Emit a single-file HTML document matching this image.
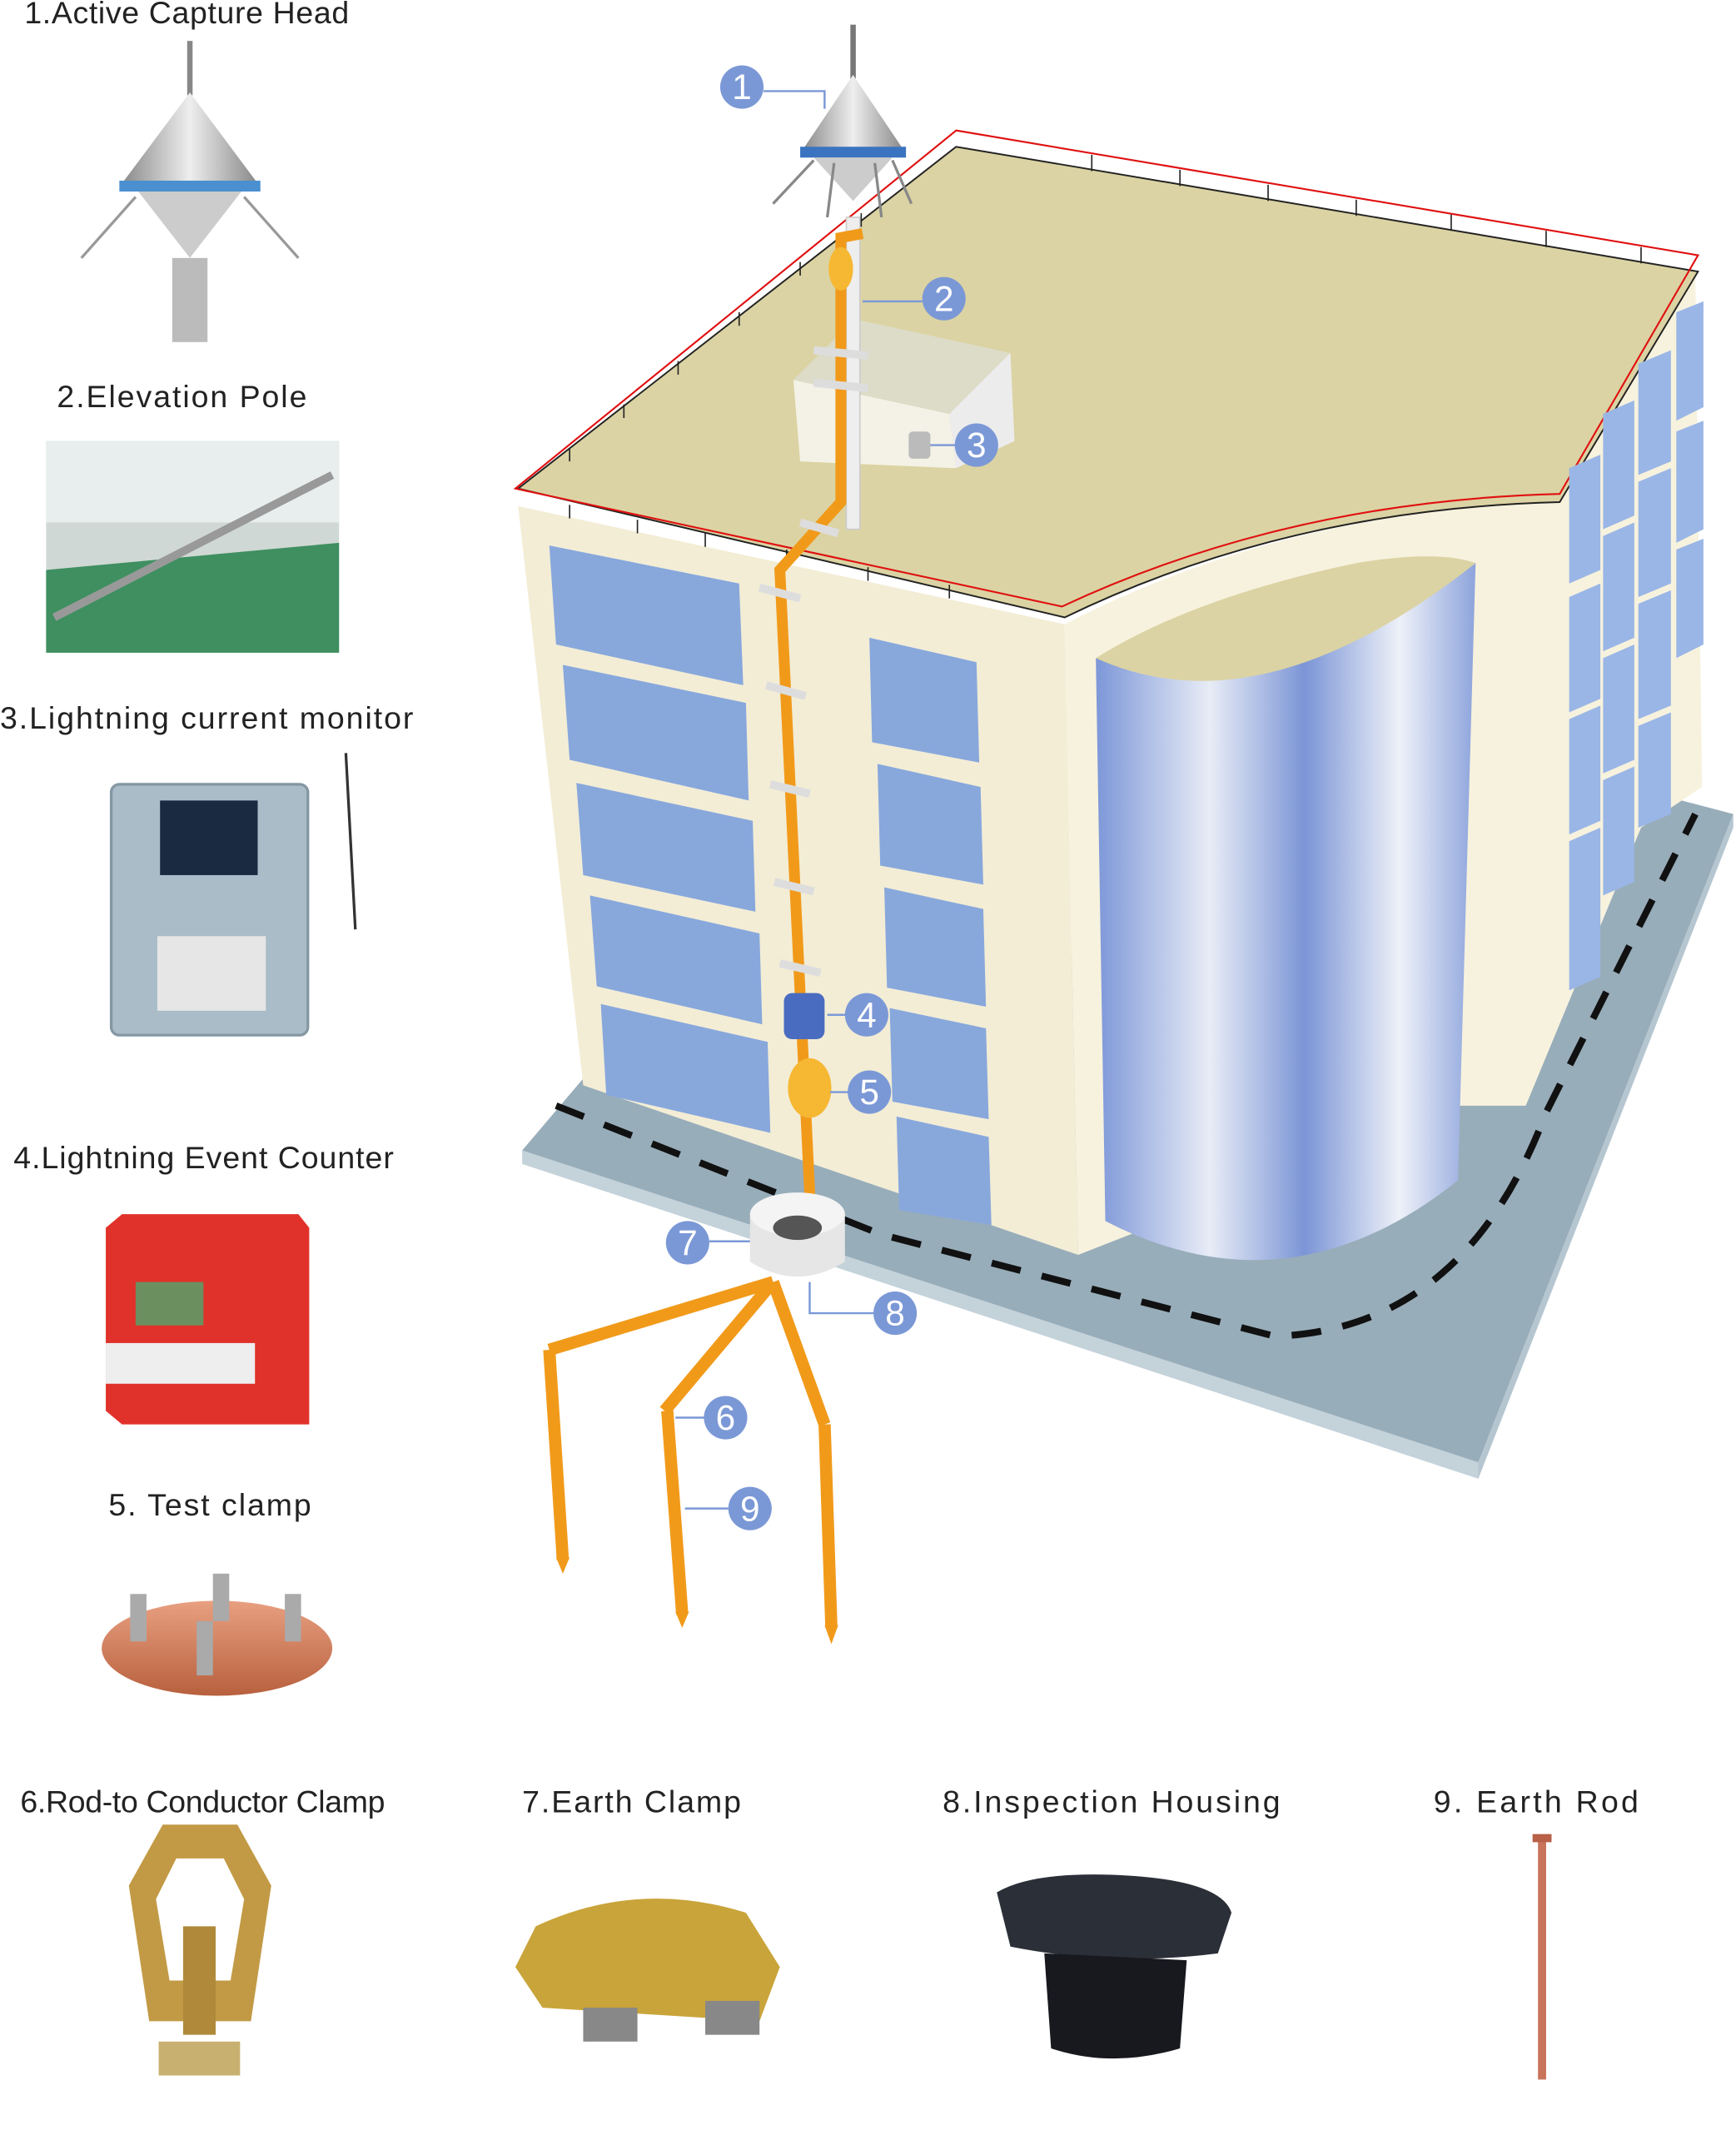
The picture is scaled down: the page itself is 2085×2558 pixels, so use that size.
<!DOCTYPE html>
<html><head><meta charset="utf-8"><style>
html,body{margin:0;padding:0;background:#fff}
svg{display:block}
text{font-family:"Liberation Sans",sans-serif}
</style></head><body>
<svg width="2085" height="2558" viewBox="0 0 1280 1570" xmlns="http://www.w3.org/2000/svg">
<defs>
<linearGradient id="cyl" x1="0" x2="1" y1="0" y2="0">
<stop offset="0" stop-color="#7d97d8"/><stop offset="0.3" stop-color="#e8ecf6"/><stop offset="0.55" stop-color="#7b95d6"/><stop offset="0.8" stop-color="#eef1f8"/><stop offset="1" stop-color="#8da4dc"/>
</linearGradient>
<linearGradient id="cone" x1="0" x2="1"><stop offset="0" stop-color="#8a8a8a"/><stop offset="0.5" stop-color="#eee"/><stop offset="1" stop-color="#888"/></linearGradient>
<linearGradient id="cu" x1="0" x2="0" y1="0" y2="1"><stop offset="0" stop-color="#e8a080"/><stop offset="1" stop-color="#b8603e"/></linearGradient>
</defs>
<polygon points="385,848 430,795 1240,590 1278,600 1090,1078" fill="#98adba"/>
<polygon points="385,848 385,858 1090,1090 1090,1078" fill="#c4d2da"/>
<polygon points="1090,1078 1090,1090 1278,610 1278,600" fill="#b6c6d0"/>
<path d="M410,815 L650,910 L940,985 Q1080,980 1140,820 L1250,600" fill="none" stroke="#111" stroke-width="5" stroke-dasharray="22,16"/>
<polygon points="382,373 785,460 795,925 430,800" fill="#f3edd6"/>
<path d="M785,460 Q950,375 1150,370 L1250,200 L1255,580 L1210,610 L1125,815 L1075,815 L795,925 Z" fill="#f7f2de"/>
<path d="M382,360 L705,108 L1252,200 L1150,370 Q950,375 785,455 Z" fill="#dbd3a3" stroke="#222" stroke-width="1.2"/>
<path d="M380,360 L705,96 L1252,188 L1150,364 Q950,369 783,447 Z" fill="none" stroke="#e01010" stroke-width="1.3"/>
<g stroke="#222" stroke-width="1">
<line x1="420" y1="330" x2="420" y2="340"/><line x1="460" y1="298" x2="460" y2="308"/><line x1="500" y1="266" x2="500" y2="276"/><line x1="545" y1="230" x2="545" y2="240"/><line x1="590" y1="193" x2="590" y2="203"/><line x1="635" y1="157" x2="635" y2="167"/>
<line x1="805" y1="114" x2="805" y2="126"/><line x1="870" y1="125" x2="870" y2="137"/><line x1="935" y1="136" x2="935" y2="148"/><line x1="1000" y1="147" x2="1000" y2="159"/><line x1="1070" y1="158" x2="1070" y2="170"/><line x1="1140" y1="170" x2="1140" y2="182"/><line x1="1210" y1="182" x2="1210" y2="194"/>
<line x1="420" y1="372" x2="420" y2="382"/><line x1="470" y1="383" x2="470" y2="393"/><line x1="520" y1="393" x2="520" y2="403"/><line x1="580" y1="405" x2="580" y2="415"/><line x1="640" y1="418" x2="640" y2="428"/><line x1="700" y1="431" x2="700" y2="441"/>
</g>
<path d="M808,485 L815,900 Q950,970 1075,870 L1088,415 Z" fill="url(#cyl)"/>
<path d="M808,485 Q930,540 1088,415 Q1060,405 1000,415 Q880,440 808,485 Z" fill="#dbd3a3"/>
<g fill="#88a8dc">
<polygon points="405,402 545,430 548,505 410,475"/><polygon points="415,490 550,518 552,590 420,560"/>
<polygon points="425,577 555,605 557,672 430,645"/><polygon points="435,660 560,688 562,755 440,727"/>
<polygon points="443,740 566,768 568,835 447,807"/>
<polygon points="641,470 720,488 722,562 643,547"/><polygon points="647,563 723,580 725,652 649,638"/>
<polygon points="652,654 725,670 727,742 654,728"/><polygon points="656,743 727,758 729,825 658,812"/>
<polygon points="661,823 729,838 731,903 663,892"/>
</g>
<g fill="#9ab6e6">
<polygon points="1236,230 1256,222 1256,300 1236,310"/><polygon points="1208,268 1232,258 1232,340 1208,350"/><polygon points="1182,305 1205,295 1205,380 1182,390"/><polygon points="1157,345 1180,335 1180,420 1157,430"/>
<polygon points="1236,318 1256,310 1256,390 1236,400"/><polygon points="1208,355 1232,345 1232,430 1208,440"/><polygon points="1182,395 1205,385 1205,470 1182,480"/><polygon points="1157,440 1180,430 1180,515 1157,525"/>
<polygon points="1236,405 1256,397 1256,475 1236,485"/><polygon points="1208,445 1232,435 1232,520 1208,530"/><polygon points="1182,485 1205,475 1205,560 1182,570"/><polygon points="1157,530 1180,520 1180,605 1157,615"/>
<polygon points="1208,535 1232,525 1232,600 1208,610"/><polygon points="1182,575 1205,565 1205,650 1182,660"/><polygon points="1157,620 1180,610 1180,720 1157,730"/>
</g>
<polygon points="585,280 630,235 745,260 700,305" fill="#dcdcc8"/>
<polygon points="585,280 700,305 705,345 590,340" fill="#f4f2e6"/>
<polygon points="700,305 745,260 748,325 705,345" fill="#ececec"/>
<rect x="670" y="318" width="16" height="20" rx="3" fill="#bbb"/>
<rect x="624" y="160" width="10" height="230" fill="#eee" stroke="#ccc"/>
<line x1="629" y1="18" x2="629" y2="60" stroke="#777" stroke-width="4"/>
<polygon points="629,55 592,110 666,110" fill="url(#cone)"/>
<rect x="590" y="108" width="78" height="8" fill="#3a74c0"/>
<path d="M600,116 L629,148 L658,116 Z" fill="#ccc"/>
<g stroke="#888" stroke-width="2"><line x1="600" y1="118" x2="570" y2="150"/><line x1="658" y1="118" x2="672" y2="150"/><line x1="615" y1="120" x2="610" y2="160"/><line x1="645" y1="120" x2="650" y2="160"/></g>
<path d="M636,172 L620,175 L620,370 L575,420 L598,900" fill="none" stroke="#f19a1a" stroke-width="8"/>
<ellipse cx="620" cy="198" rx="9" ry="16" fill="#f6b733"/>
<g stroke="#ddd" stroke-width="6"><line x1="600" y1="258" x2="640" y2="262"/><line x1="600" y1="282" x2="640" y2="286"/><line x1="590" y1="385" x2="618" y2="393"/><line x1="560" y1="433" x2="590" y2="441"/><line x1="565" y1="505" x2="594" y2="513"/><line x1="568" y1="578" x2="597" y2="585"/><line x1="571" y1="650" x2="600" y2="657"/><line x1="575" y1="710" x2="605" y2="717"/></g>
<rect x="578" y="732" width="30" height="34" rx="6" fill="#4a6cc0"/>
<ellipse cx="597" cy="802" rx="16" ry="22" fill="#f6b733"/>
<path d="M553,895 L553,930 Q588,952 623,930 L623,895 Z" fill="#e6e6e6"/>
<ellipse cx="588" cy="895" rx="35" ry="16" fill="#f4f4f4"/>
<ellipse cx="588" cy="905" rx="18" ry="9" fill="#555"/>
<g fill="none" stroke="#f19a1a" stroke-width="9">
<path d="M570,945 L405,995"/><path d="M570,945 L490,1040"/><path d="M570,945 L608,1050"/>
<path d="M405,995 L415,1150"/><path d="M492,1040 L503,1190"/><path d="M608,1050 L613,1200"/>
</g>
<g fill="#f19a1a"><polygon points="410,1148 420,1148 415,1160"/><polygon points="498,1188 508,1188 503,1200"/><polygon points="608,1198 618,1198 613,1212"/></g>
<g stroke="#7b98d6" stroke-width="1.5" fill="none">
<path d="M563,67 L608,67 L608,80"/><line x1="636" y1="222" x2="680" y2="222"/><line x1="686" y1="328" x2="705" y2="328"/><line x1="610" y1="748" x2="625" y2="748"/><line x1="612" y1="805" x2="627" y2="805"/><line x1="523" y1="915" x2="553" y2="915"/><path d="M597,945 L597,968 L645,968"/><line x1="498" y1="1045" x2="520" y2="1045"/><line x1="505" y1="1112" x2="537" y2="1112"/>
</g>
<g fill="#7b98d6">
<circle cx="547" cy="64" r="16"/><circle cx="696" cy="220" r="16"/><circle cx="720" cy="328" r="16"/><circle cx="639" cy="748" r="16"/><circle cx="641" cy="805" r="16"/><circle cx="507" cy="916" r="16"/><circle cx="660" cy="968" r="16"/><circle cx="535" cy="1045" r="16"/><circle cx="553" cy="1112" r="16"/>
</g>
<g fill="#fff" font-size="26" text-anchor="middle">
<text x="547" y="73">1</text><text x="696" y="229">2</text><text x="720" y="337">3</text><text x="639" y="757">4</text><text x="641" y="814">5</text><text x="507" y="925">7</text><text x="660" y="977">8</text><text x="535" y="1054">6</text><text x="553" y="1121">9</text>
</g>
<g fill="#222" font-size="23" letter-spacing="1.2">
<text x="18" y="17" letter-spacing="0.4">1.Active Capture Head</text>
<text x="42" y="300">2.Elevation Pole</text>
<text x="0" y="537">3.Lightning current monitor</text>
<text x="10" y="861" letter-spacing="0.6">4.Lightning Event  Counter</text>
<text x="80" y="1117">5.  Test clamp</text>
<text x="15" y="1336" letter-spacing="-0.2">6.Rod-to Conductor Clamp</text>
<text x="385" y="1336">7.Earth Clamp</text>
<text x="695" y="1336" letter-spacing="1.8">8.Inspection Housing</text>
<text x="1057" y="1336" letter-spacing="2">9.  Earth  Rod</text>
</g>
<line x1="140" y1="30" x2="140" y2="70" stroke="#888" stroke-width="4"/>
<polygon points="140,68 90,135 190,135" fill="url(#cone)"/>
<rect x="88" y="133" width="104" height="8" fill="#4a8fd0"/>
<path d="M102,141 L140,190 L178,141 Z" fill="#ccc"/>
<g stroke="#999" stroke-width="2"><line x1="100" y1="145" x2="60" y2="190"/><line x1="180" y1="145" x2="220" y2="190"/></g>
<rect x="127" y="190" width="26" height="62" fill="#bbb"/>
<rect x="34" y="325" width="216" height="156" fill="#cfd8d4"/>
<rect x="34" y="325" width="216" height="60" fill="#e8eeee"/>
<polygon points="34,420 250,400 250,481 34,481" fill="#3f8f60"/>
<line x1="40" y1="455" x2="245" y2="350" stroke="#999" stroke-width="6"/>
<rect x="82" y="578" width="145" height="185" rx="6" fill="#a9bcc8" stroke="#8497a3" stroke-width="2"/>
<rect x="118" y="590" width="72" height="55" fill="#1a2a40"/>
<rect x="116" y="690" width="80" height="55" fill="#e6e6e6"/>
<line x1="255" y1="555" x2="262" y2="685" stroke="#333" stroke-width="2"/>
<polygon points="90,895 220,895 228,905 228,1050 90,1050 78,1040 78,905" fill="#e0322a"/>
<rect x="100" y="945" width="50" height="32" fill="#6c8f60"/>
<rect x="78" y="990" width="110" height="30" fill="#eee"/>
<ellipse cx="160" cy="1215" rx="85" ry="35" fill="url(#cu)"/>
<g fill="#aaa"><rect x="96" y="1175" width="12" height="35"/><rect x="157" y="1160" width="12" height="35"/><rect x="210" y="1175" width="12" height="35"/><rect x="145" y="1195" width="12" height="40"/></g>
<path d="M120,1345 L175,1345 L200,1390 L185,1490 L110,1490 L95,1390 Z" fill="#c29a45"/>
<path d="M130,1370 L165,1370 L180,1400 L170,1460 L125,1460 L115,1400 Z" fill="#fff"/>
<rect x="135" y="1420" width="24" height="80" fill="#b08a3a"/>
<rect x="117" y="1505" width="60" height="25" fill="#c8b070"/>
<path d="M395,1420 Q470,1385 550,1410 L575,1450 L560,1490 L400,1480 L380,1450 Z" fill="#c9a43a"/>
<rect x="430" y="1480" width="40" height="25" fill="#888"/><rect x="520" y="1475" width="40" height="25" fill="#888"/>
<path d="M735,1395 Q760,1380 820,1382 Q900,1385 908,1410 L898,1440 Q820,1450 745,1435 Z" fill="#2b2f38"/>
<path d="M770,1440 L875,1445 L870,1510 Q820,1525 775,1510 Z" fill="#17191f"/>
<rect x="1134" y="1355" width="6" height="178" fill="#c8745a"/>
<rect x="1130" y="1352" width="14" height="6" fill="#b86048"/>
</svg>
</body></html>
